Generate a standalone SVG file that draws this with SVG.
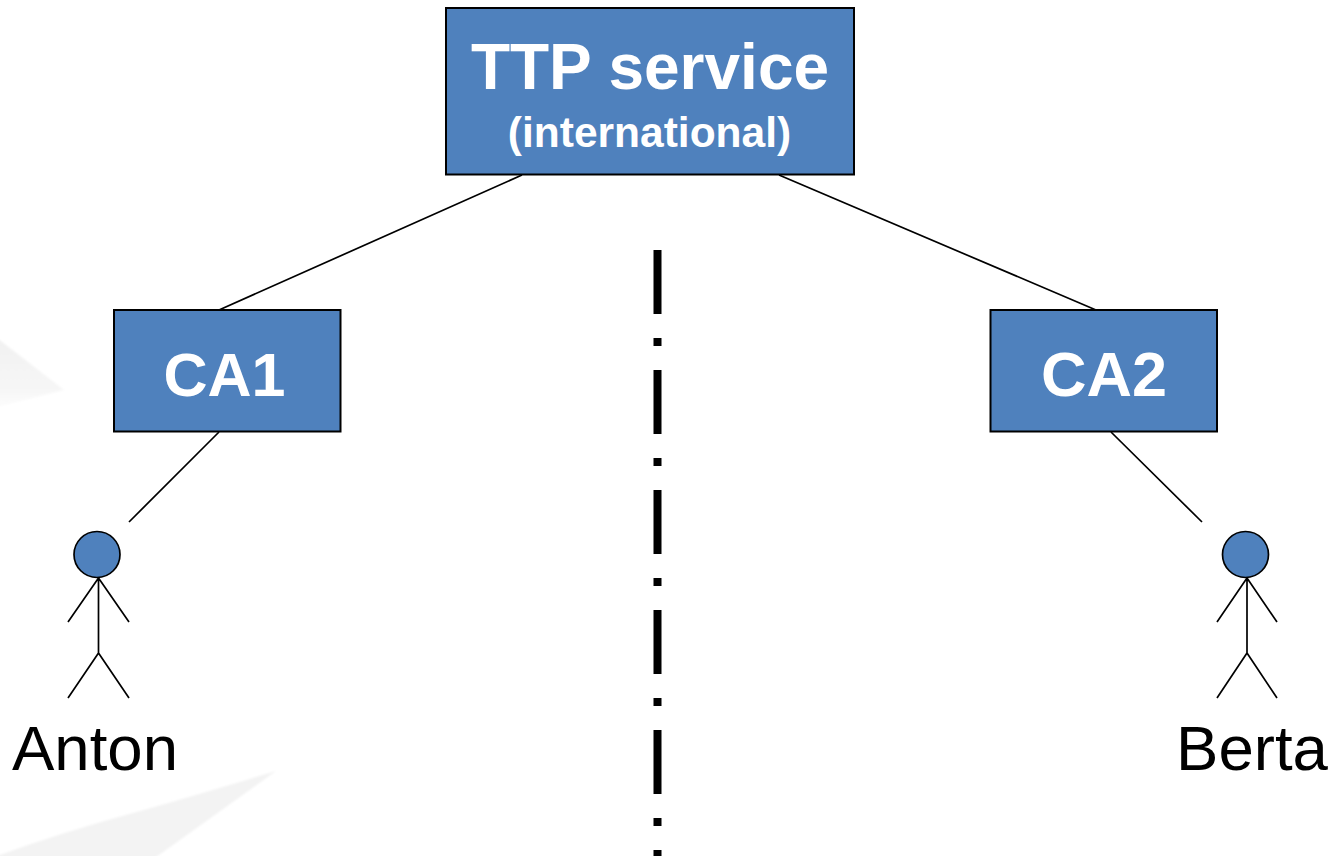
<svg xmlns="http://www.w3.org/2000/svg" width="1333" height="856" viewBox="0 0 1333 856">
<defs>
<linearGradient id="fade" x1="0" y1="0" x2="0" y2="1"><stop offset="0" stop-color="#f1f1f1"/><stop offset="0.7" stop-color="#f6f6f6"/><stop offset="1" stop-color="#fcfcfc"/></linearGradient>
<filter id="soft"><feGaussianBlur stdDeviation="1"/></filter>
</defs>
<style>
.box{fill:#4f81bd;stroke:#000;stroke-width:2}
.head{fill:#4f81bd;stroke:#000;stroke-width:1.7}
.ln{fill:none;stroke:#000;stroke-width:1.7}
text{font-family:"Liberation Sans",Arial,sans-serif;text-anchor:middle}
.w{fill:#fff;font-weight:bold}
</style>
<rect width="1333" height="856" fill="#fff"/>
<g id="watermark" filter="url(#soft)">
<path fill="url(#fade)" d="M-3 338L64 390L-3 407Z"/>
<path fill="#f3f3f3" d="M276 771Q190 797 133 813Q60 833 -3 856V860H152Z"/>
</g>
<g id="connectors">
<path class="ln" d="M522 175L219 310M779 175L1096 310M219 432L129 522M1111 432L1202 522"/>
<path d="M657.500 250V858" fill="none" stroke="#000" stroke-width="8" stroke-dasharray="64 24 8 24"/>
</g>
<g id="ttp"><rect class="box" x="446" y="8" width="408" height="166.500"/>
<text class="w" x="650" y="89" font-size="64">TTP service</text>
<text class="w" x="649.500" y="147" font-size="42.500">(international)</text></g>
<g id="ca1"><rect class="box" x="114" y="310" width="226.500" height="121.500"/>
<text class="w" x="224.500" y="396" font-size="61">CA1</text></g>
<g id="ca2"><rect class="box" x="990.500" y="310" width="226.500" height="121.500"/>
<text class="w" x="1104" y="396" font-size="63">CA2</text></g>
<g id="anton"><circle class="head" cx="97" cy="554.500" r="23"/>
<path class="ln" d="M98.500 578V653M98.500 578L68 622M98.500 578L129 622M98.500 653L68 698M98.500 653L129 698"/>
<text x="95" y="770" font-size="63.500">Anton</text></g>
<g id="berta"><circle class="head" cx="1245.500" cy="554.500" r="23"/>
<path class="ln" d="M1247 578V653M1247 578L1217 622M1247 578L1277 622M1247 653L1217 698M1247 653L1277 698"/>
<text x="1252" y="770" font-size="63.500">Berta</text></g>
</svg>
